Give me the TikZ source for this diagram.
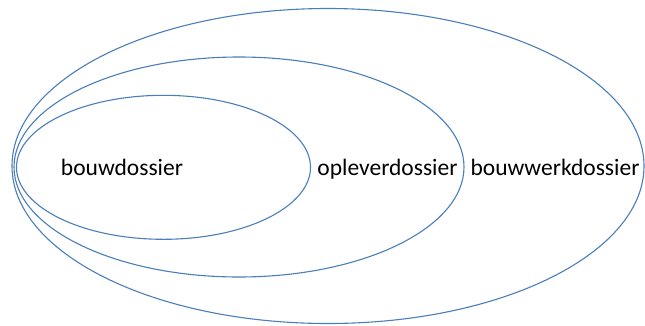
\documentclass[tikz,border=0pt]{standalone}
\usepackage{fontspec}
\setmainfont{Carlito}
\definecolor{rimblue}{HTML}{4A7EBB}
\begin{document}
\begin{tikzpicture}[x=1pt,y=-1pt,
  ring/.style={draw=rimblue,line width=1.1pt},
  lbl/.style={anchor=base,inner sep=0pt,font=\fontsize{23.5}{28}\selectfont}]
\useasboundingbox (0,0) rectangle (645,325);
% nested dossiers, all touching on the left side
\draw[ring] (328,166) ellipse [x radius=316,y radius=157.5];
\draw[ring] (239,167) ellipse [x radius=225,y radius=110];
\draw[ring] (163.5,167.3) ellipse [x radius=147,y radius=72];
\node[lbl] (bouw) at (122,175) {bouwdossier};
\node[lbl] (oplever) at (387.5,175) {opleverdossier};
\node[lbl] (werk) at (555,175) {bouwwerkdossier};
\end{tikzpicture}
\end{document}
